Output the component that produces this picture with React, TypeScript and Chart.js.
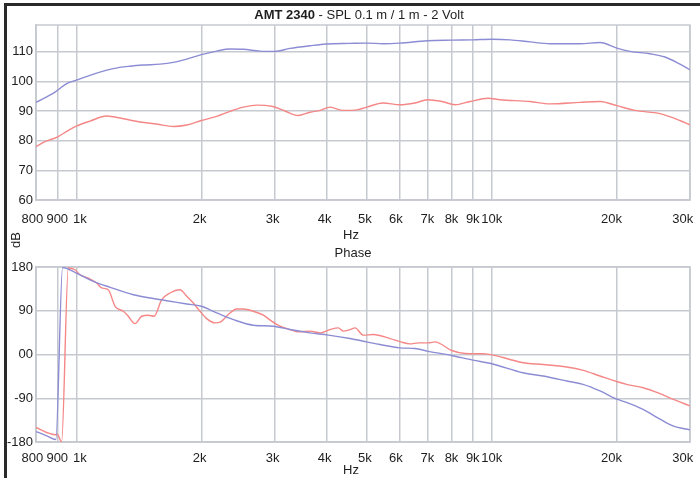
import React, { useEffect, useRef } from 'react';
import { Chart, registerables } from 'chart.js';

Chart.register(...registerables);

// ---- tick definitions ----
const xTicksHz = [800, 900, 1000, 2000, 3000, 4000, 5000, 6000, 7000, 8000, 9000, 10000, 20000, 30000];
const xTickLabels = ['800  ', '900', '  1k', '2k ', '3k ', '4k ', '5k ', '6k  ', '7k', '8k', '9k', '10k', '20k   ', '30k    '];
const splTicks = [60, 70, 80, 90, 100, 110];
const phaseTicks = [-180, -90, 0, 90, 180];
const phaseTickLabels = ['-180', '-90', '00', '90', '180'];

// ---- SPL (top) ----
const splBlueHz = [800, 889, 948, 1000, 1120, 1228, 1347, 1448, 1591, 1712, 1845, 2000, 2178, 2344, 2524, 2768, 3000, 3269, 3653, 4000, 4559, 5000, 5474, 6000, 7000, 8000, 9000, 10000, 11064, 12361, 13809, 16308, 18219, 20000, 21511, 24032, 26120, 28377, 30000];
const splBlueDb = [92.9, 96.4, 99.2, 100.4, 102.8, 104.3, 105.1, 105.5, 105.8, 106.4, 107.5, 109.0, 110.2, 110.9, 110.8, 110.2, 110.1, 111.1, 112.0, 112.6, 112.8, 112.9, 112.7, 112.9, 113.7, 113.9, 114.0, 114.2, 114.0, 113.3, 112.7, 112.7, 113.1, 111.2, 110.1, 109.3, 108.2, 105.8, 103.9];

const splRedHz = [800, 841, 900, 957, 1000, 1079, 1184, 1298, 1424, 1562, 1712, 1845, 2000, 2178, 2344, 2524, 2719, 2954, 3180, 3418, 3653, 3861, 4081, 4386, 4740, 5000, 5474, 6013, 6535, 7000, 7590, 8157, 8863, 9791, 10468, 12361, 13809, 16308, 18219, 20000, 22117, 25406, 28377, 30000];
const splRedDb = [78.0, 79.7, 81.2, 83.5, 84.9, 86.6, 88.3, 87.4, 86.3, 85.6, 84.8, 85.3, 86.8, 88.2, 89.9, 91.3, 92.0, 91.6, 90.0, 88.5, 89.6, 90.2, 91.3, 90.2, 90.4, 91.3, 92.7, 92.1, 92.7, 93.8, 93.2, 92.1, 93.2, 94.3, 93.8, 93.2, 92.4, 92.9, 93.2, 91.8, 90.2, 89.1, 86.8, 85.3];

// ---- Phase (bottom) ----
const phaseBlueHz = [800, 849, 893, 927, 1000, 1099, 1206, 1372, 1505, 1651, 1845, 2000, 2178, 2388, 2667, 2980, 3269, 3653, 4043, 4559, 5000, 5384, 6000, 6535, 7000, 8000, 9000, 10000, 11890, 13284, 15173, 16582, 18219, 20000, 21157, 23120, 25406, 27297, 30000];
const phaseBlueDeg = [-158.5, -167.3, -175, 179, 167.5, 150.5, 138.2, 123, 116.2, 110.7, 104, 99.2, 85.5, 71.8, 60.3, 58.2, 51.3, 44.5, 39.8, 32.8, 26, 20.5, 13.7, 12.3, 7, -2, -11.5, -19, -37.5, -44.3, -54.5, -61.5, -75, -92, -99, -113, -133, -147, -155];

const phaseRedHz = [800, 849, 889, 900, 922, 957, 993, 1021, 1069, 1120, 1151, 1194, 1240, 1298, 1334, 1385, 1437, 1491, 1538, 1606, 1681, 1777, 1845, 1913, 1985, 2060, 2157, 2218, 2344, 2433, 2524, 2667, 2820, 2954, 3094, 3269, 3423, 3653, 3861, 4081, 4273, 4393, 4559, 4687, 4907, 5187, 5691, 6036, 6356, 6656, 7037, 7301, 8009, 8622, 9539, 10086, 11064, 11910, 13306, 15148, 16610, 18219, 20049, 21120, 23160, 25406, 27347, 30000];
const phaseRedDeg = [-150, -160.5, -165.2, -164, -180, 177.8, 174.3, 164, 157.3, 147, 137, 133.3, 99.2, 89, 78.7, 63.6, 78.7, 80.8, 78.7, 112.8, 126.5, 133.3, 119.6, 105.9, 89, 73.8, 65, 66.4, 85.5, 93.7, 93.7, 89, 80.8, 68.5, 58.3, 51.3, 46.5, 48, 44.5, 51.3, 54.8, 48, 51.3, 54.8, 39.8, 41, 32.8, 26, 21.9, 24, 24, 26, 8.2, 2.1, 1.4, -1.2, -10.2, -17, -20.5, -25.8, -32.8, -44.3, -56, -61.5, -68.3, -80.6, -92.3, -105.8];

const BLUE = 'rgb(140,140,212)';
const RED = 'rgb(245,135,135)';
const GRID = 'rgb(198,202,208)';
const TEXT = '#1e1e1e';
const FONT_FAMILY = '"Liberation Sans", Arial, Helvetica, sans-serif';

const pts = (xs: number[], ys: number[]) => xs.map((x, i) => ({ x, y: ys[i] }));

type TextItem = { parts: { text: string; bold?: boolean }[]; x: number; y: number; rotate?: boolean };

function textPlugin(id: string, items: TextItem[]) {
  return {
    id,
    afterDraw(chart: any) {
      const ctx = chart.ctx as CanvasRenderingContext2D;
      ctx.save();
      ctx.fillStyle = TEXT;
      ctx.textBaseline = 'middle';
      for (const it of items) {
        let total = 0;
        for (const p of it.parts) {
          ctx.font = `${p.bold ? 'bold ' : ''}13px ${FONT_FAMILY}`;
          total += ctx.measureText(p.text).width;
        }
        ctx.save();
        ctx.translate(it.x, it.y);
        if (it.rotate) ctx.rotate(-Math.PI / 2);
        let cx = -total / 2;
        ctx.textAlign = 'left';
        for (const p of it.parts) {
          ctx.font = `${p.bold ? 'bold ' : ''}13px ${FONT_FAMILY}`;
          ctx.fillText(p.text, cx, 0);
          cx += ctx.measureText(p.text).width;
        }
        ctx.restore();
      }
      ctx.restore();
    },
  };
}

const framePlugin = {
  id: 'frame',
  beforeDatasetsDraw(chart: any) {
    const { ctx, chartArea } = chart;
    ctx.save();
    ctx.strokeStyle = GRID;
    ctx.lineWidth = 1.5;
    ctx.strokeRect(chartArea.left, chartArea.top, chartArea.right - chartArea.left, chartArea.bottom - chartArea.top);
    ctx.restore();
  },
};

function makeOptions(yMin: number, yMax: number, yTicks: number[], yLabels: string[] | null, padTop: number, xHeight: number, xPad: number): any {
  const font = { family: FONT_FAMILY, size: 13 };
  return {
    responsive: false,
    animation: false,
    events: [],
    layout: { padding: { left: 0, right: 10, top: padTop, bottom: 0 } },
    plugins: { legend: { display: false }, tooltip: { enabled: false }, title: { display: false } },
    elements: { point: { radius: 0 }, line: { borderWidth: 1.4, cubicInterpolationMode: 'monotone' } },
    scales: {
      x: {
        type: 'logarithmic',
        min: 800,
        max: 30000,
        afterBuildTicks: (s: any) => {
          s.ticks = xTicksHz.map((v) => ({ value: v }));
        },
        afterFit: (s: any) => {
          s.height = xHeight;
          s.paddingLeft = 0;
          s.paddingRight = 0;
        },
        ticks: {
          autoSkip: false,
          maxRotation: 0,
          minRotation: 0,
          padding: xPad,
          color: TEXT,
          font,
          callback: (_v: any, i: number) => xTickLabels[i],
        },
        grid: { color: GRID, lineWidth: 1.5, drawTicks: false },
        border: { display: true, color: GRID, width: 1.5 },
      },
      y: {
        type: 'linear',
        min: yMin,
        max: yMax,
        afterBuildTicks: (s: any) => {
          s.ticks = yTicks.map((v) => ({ value: v }));
        },
        afterFit: (s: any) => {
          s.width = 36;
          s.paddingTop = 0;
          s.paddingBottom = 0;
        },
        ticks: {
          padding: 3,
          color: TEXT,
          font,
          callback: (v: any, i: number) => (yLabels ? yLabels[i] : String(v)),
        },
        grid: { color: GRID, lineWidth: 1.5, drawTicks: false },
        border: { display: true, color: GRID, width: 1.5 },
      },
    },
  };
}

export default function App() {
  const topRef = useRef<HTMLCanvasElement>(null);
  const botRef = useRef<HTMLCanvasElement>(null);

  useEffect(() => {
    document.body.style.margin = '0';
    const top = new Chart(topRef.current!, {
      type: 'line',
      data: {
        datasets: [
          { data: pts(splBlueHz, splBlueDb), borderColor: BLUE, fill: false },
          { data: pts(splRedHz, splRedDb), borderColor: RED, fill: false },
        ],
      },
      options: makeOptions(60, 119, splTicks, null, 25, 48, 12),
      plugins: [
        framePlugin,
        textPlugin('topText', [
          { parts: [{ text: 'AMT 2340', bold: true }, { text: ' - SPL 0.1 m / 1 m - 2 Volt' }], x: 359, y: 15 },
          { parts: [{ text: 'Hz' }], x: 351, y: 235 },
          { parts: [{ text: 'dB' }], x: 16, y: 240, rotate: true },
        ]),
      ],
    } as any);

    const bot = new Chart(botRef.current!, {
      type: 'line',
      data: {
        datasets: [
          { data: pts(phaseBlueHz, phaseBlueDeg), borderColor: BLUE, fill: false },
          { data: pts(phaseRedHz, phaseRedDeg), borderColor: RED, fill: false },
        ],
      },
      options: makeOptions(-180, 180, phaseTicks, phaseTickLabels, 19, 36, 9),
      plugins: [
        framePlugin,
        textPlugin('botText', [
          { parts: [{ text: 'Phase' }], x: 353, y: 5 },
          { parts: [{ text: 'Hz' }], x: 351, y: 222 },
        ]),
      ],
    } as any);

    return () => {
      top.destroy();
      bot.destroy();
    };
  }, []);

  return (
    <div style={{ position: 'relative', width: 700, height: 478, background: '#fff', overflow: 'hidden' }}>
      <canvas ref={topRef} width={700} height={248} style={{ position: 'absolute', left: 0, top: 0, width: 700, height: 248 }} />
      <canvas ref={botRef} width={700} height={230} style={{ position: 'absolute', left: 0, top: 248, width: 700, height: 230 }} />
      <div style={{ position: 'absolute', left: 4, top: 3, width: 696, height: 3, background: '#2a2a2a' }} />
      <div style={{ position: 'absolute', left: 4, top: 3, width: 3, height: 475, background: '#2a2a2a' }} />
    </div>
  );
}
